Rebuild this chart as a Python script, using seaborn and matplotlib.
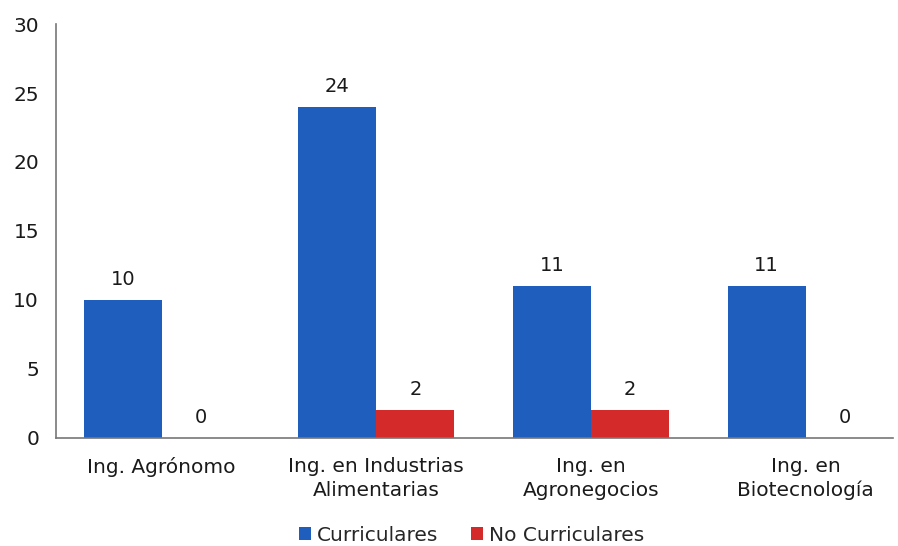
import pandas as pd
import matplotlib.pyplot as plt
import seaborn as sns

# Data
carreras = ["Ing. Agrónomo", "Ing. en Industrias\nAlimentarias",
            "Ing. en\nAgronegocios", "Ing. en\nBiotecnología"]
curriculares = [10, 24, 11, 11]
no_curriculares = [0, 2, 2, 0]
series = ["Curriculares", "No Curriculares"]

df = pd.DataFrame({
    "Carrera": carreras * 2,
    "Tipo": [series[0]] * 4 + [series[1]] * 4,
    "Valor": curriculares + no_curriculares,
})

sns.set_style("white")
plt.rcParams["font.family"] = ["DejaVu Sans"]

fig = plt.figure(figsize=(8.98, 5.46), dpi=100)
ax = fig.add_axes([0.062, 0.198, 0.932, 0.758])

palette = {"Curriculares": "#1f5ebd", "No Curriculares": "#d42a2a"}
sns.barplot(data=df, x="Carrera", y="Valor", hue="Tipo", palette=palette,
            width=0.727, saturation=1, linewidth=0, ax=ax, legend=True)

# Value labels above each bar
for cont in ax.containers:
    ax.bar_label(cont, fmt="%d", padding=8, fontsize=14, color="#1a1a1a")

ax.set_ylim(0, 30)
ax.set_yticks(range(0, 31, 5))
ax.set_xlim(-0.494, 3.405)
ax.set_xlabel("")
ax.set_ylabel("")
ax.tick_params(axis="both", length=0, labelsize=14.5, colors="#1a1a1a")
ax.tick_params(axis="y", pad=12)
ax.tick_params(axis="x", pad=14)
for lbl in ax.get_xticklabels():
    lbl.set_linespacing(1.3)

for side in ["top", "right"]:
    ax.spines[side].set_visible(False)
for side in ["left", "bottom"]:
    ax.spines[side].set_color("#777777")
    ax.spines[side].set_linewidth(1.2)

handles, labels = ax.get_legend_handles_labels()
ax.get_legend().remove()
fig.legend(handles, labels, loc="center", bbox_to_anchor=(0.525, 0.02),
           ncol=2, frameon=False, fontsize=14.5, handlelength=0.6,
           handleheight=0.6, handletextpad=0.3, columnspacing=1.6,
           borderpad=0)

fig.savefig("out.png", dpi=100)
